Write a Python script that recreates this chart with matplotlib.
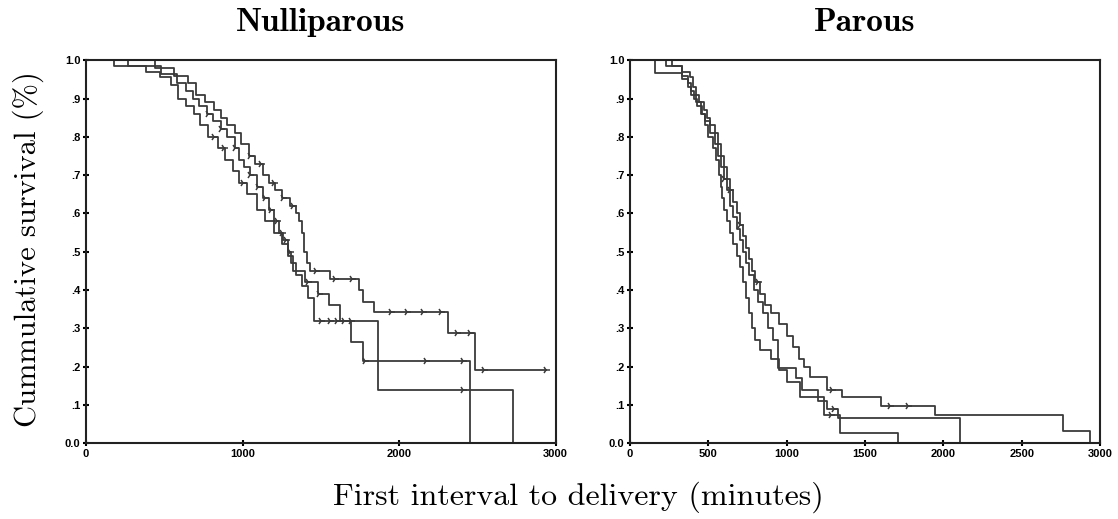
import numpy as np
import matplotlib
matplotlib.use('Agg')
import matplotlib.pyplot as plt

# Nulliparous: event times (minutes) and survival after each event
null_a_t = [440, 560, 650, 700, 760, 820, 860, 900, 950, 990, 1040, 1080, 1130, 1170,
            1210, 1250, 1300, 1340, 1360, 1380, 1395, 1410, 1430, 1560, 1745, 1770,
            1840, 2310, 2485]
null_a_s = [.98, .96, .94, .91, .89, .87, .85, .83, .81, .78, .75, .73, .70, .68,
            .66, .64, .62, .60, .58, .55, .50, .47, .45, .43, .40, .37,
            .343, .287, .19]
null_a_end = 2939
null_a_cens = [1050, 1120, 1200, 1260, 1320, 1470, 1590, 1700, 1950, 2050, 2150,
               2270, 2370, 2450, 2541, 2939]

null_b_t = [180, 380, 470, 540, 590, 640, 690, 730, 780, 840, 890, 940, 980, 1030,
            1090, 1140, 1200, 1250, 1290, 1320, 1400, 1480, 1550, 1620, 1862, 2725]
null_b_s = [.985, .97, .955, .935, .90, .88, .86, .83, .80, .77, .74, .71, .68, .65,
            .61, .58, .55, .52, .49, .45, .42, .39, .36, .32, .14, 0.0]
null_b_end = 2725
null_b_cens = [820, 880, 1000, 1420, 1490, 2405]

null_c_t = [270, 480, 580, 640, 680, 720, 770, 810, 860, 900, 950, 980, 1010, 1050,
            1090, 1130, 1170, 1200, 1230, 1260, 1290, 1310, 1340, 1380, 1420, 1455,
            1692, 1767, 2450]
null_c_s = [.985, .965, .94, .92, .90, .88, .86, .84, .82, .80, .77, .74, .72, .70,
            .67, .64, .61, .58, .55, .53, .50, .47, .44, .41, .38, .32,
            .265, .215, 0.0]
null_c_end = 2450
null_c_cens = [780, 860, 950, 1050, 1100, 1140, 1180, 1220, 1250, 1280, 1300, 1500,
               1560, 1600, 1650, 1690, 1780, 2172, 2405]

# Parous
par_a_t = [230, 330, 380, 400, 420, 440, 470, 490, 510, 540, 560, 580, 600, 620, 640,
           660, 680, 700, 720, 740, 760, 780, 800, 830, 860, 900, 950, 1000, 1040,
           1080, 1110, 1150, 1260, 1351, 1600, 1948, 2765, 2937]
par_a_s = [.985, .97, .955, .93, .91, .89, .87, .85, .83, .81, .78, .75, .72, .69, .66,
           .63, .60, .57, .54, .51, .48, .45, .42, .39, .36, .34, .31, .28, .25,
           .22, .20, .173, .14, .12, .097, .073, .032, 0.0]
par_a_end = 2937
par_a_cens = [640, 700, 820, 1290, 1660, 1775]

par_b_t = [160, 330, 370, 390, 420, 450, 480, 510, 540, 560, 580, 600, 620, 640, 660,
           680, 700, 720, 740, 760, 790, 820, 850, 880, 913, 945, 1060, 1100, 1200,
           1260, 1330, 2107]
par_b_s = [.967, .95, .93, .91, .89, .86, .84, .81, .78, .75, .72, .69, .66, .62, .59,
           .56, .53, .50, .47, .44, .40, .37, .34, .30, .27, .196, .17, .14, .11,
           .09, .065, 0.0]
par_b_end = 2107
par_b_cens = [600, 1300]

par_c_t = [270, 330, 370, 390, 410, 430, 460, 480, 500, 530, 550, 565, 580, 590, 600,
           620, 640, 660, 680, 700, 720, 740, 760, 780, 798, 830, 900, 950, 1000,
           1085, 1235, 1341, 1711]
par_c_s = [.985, .96, .94, .92, .90, .88, .86, .83, .80, .77, .74, .70, .67, .64, .61,
           .58, .55, .52, .49, .46, .42, .38, .34, .30, .27, .243, .22, .19, .16,
           .121, .073, .026, 0.0]
par_c_end = 1711
par_c_cens = [1280]

y_ticks = [0.0, .1, .2, .3, .4, .5, .6, .7, .8, .9, 1.0]
y_labels = ['0.0', '.1', '.2', '.3', '.4', '.5', '.6', '.7', '.8', '.9', '1.0']
null_xticks = [0, 1000, 2000, 3000]
par_xticks = [0, 500, 1000, 1500, 2000, 2500, 3000]

line_col = '#3a3a3a'


def km_curve(ax, times, surv, end, cens):
    t = np.concatenate([[0], times, [end]])
    s = np.concatenate([[1.0], surv, [surv[-1]]])
    ax.step(t, s, where='post', color=line_col, lw=1.3)
    # censor marks sit on the curve
    idx = np.searchsorted(t, cens, side='right') - 1
    ax.plot(cens, s[idx], linestyle='none', marker='4', ms=6, mew=1.1, color=line_col)


def style_axes(ax, xticks, title):
    ax.set_xlim(0, 3000)
    ax.set_ylim(0, 1.0)
    ax.set_xticks(xticks)
    ax.set_xticklabels([str(v) for v in xticks])
    ax.set_yticks(y_ticks)
    ax.set_yticklabels(y_labels)
    ax.tick_params(direction='inout', length=4, width=1.5, labelsize=8, pad=2)
    for lab in ax.get_xticklabels() + ax.get_yticklabels():
        lab.set_fontfamily('Liberation Sans')
        lab.set_fontweight('bold')
    for sp in ax.spines.values():
        sp.set_linewidth(1.5)
        sp.set_color('#222222')
    ax.set_title(title, fontfamily='cmb10', fontsize=24, pad=21)


fig = plt.figure(figsize=(11.18, 5.19), dpi=100)
ax1 = fig.add_axes([0.077, 0.146, 0.420, 0.738])
ax2 = fig.add_axes([0.5635, 0.146, 0.4205, 0.738])

km_curve(ax1, null_a_t, null_a_s, null_a_end, null_a_cens)
km_curve(ax1, null_b_t, null_b_s, null_b_end, null_b_cens)
km_curve(ax1, null_c_t, null_c_s, null_c_end, null_c_cens)
style_axes(ax1, null_xticks, 'Nulliparous')

km_curve(ax2, par_a_t, par_a_s, par_a_end, par_a_cens)
km_curve(ax2, par_b_t, par_b_s, par_b_end, par_b_cens)
km_curve(ax2, par_c_t, par_c_s, par_c_end, par_c_cens)
style_axes(ax2, par_xticks, 'Parous')

fig.text(0.025, 0.52, 'Cummulative survival (%)', rotation=90, ha='center', va='center',
         fontfamily='cmr10', fontsize=22)
fig.text(0.517, 0.042, 'First interval to delivery (minutes)', ha='center', va='center',
         fontfamily='cmr10', fontsize=23)

fig.savefig('out.png', dpi=100)
